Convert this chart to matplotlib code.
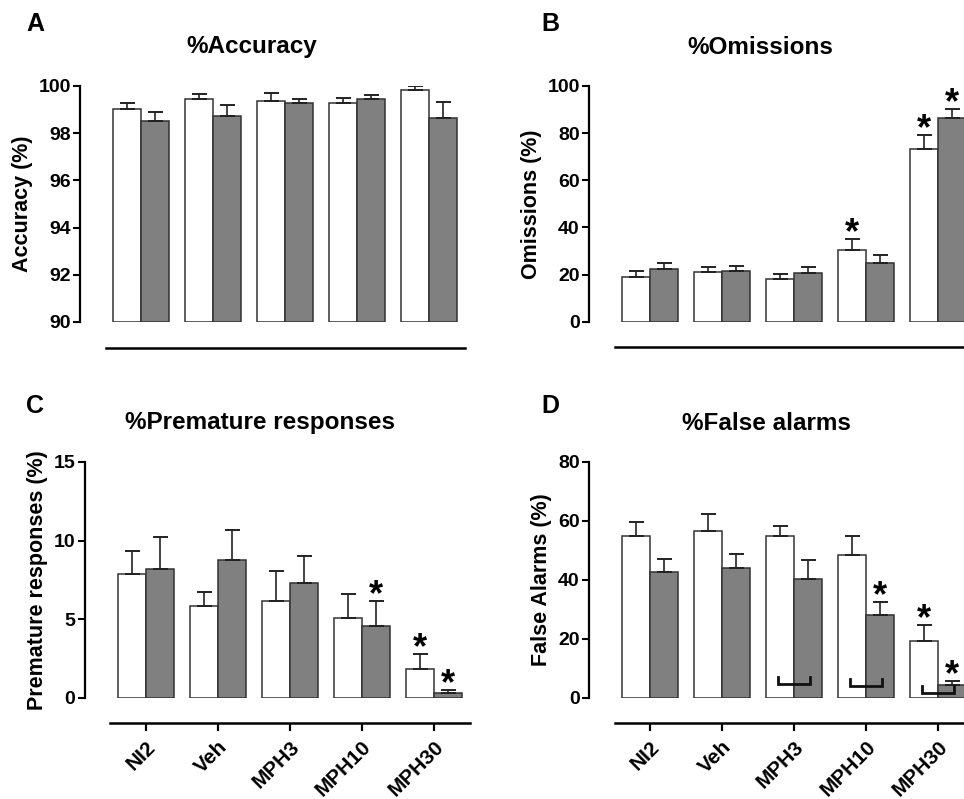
import matplotlib
matplotlib.use('Agg')
import matplotlib.pyplot as plt
import numpy as np

# fonts
plt.rcParams['font.family'] = ['Liberation Sans', 'DejaVu Sans']
plt.rcParams['font.weight'] = 'bold'
plt.rcParams['axes.labelweight'] = 'bold'

groups = ['NI2', 'Veh', 'MPH3', 'MPH10', 'MPH30']

# A - accuracy
acc_white = [99.01, 99.44, 99.36, 99.29, 99.84]
acc_white_err = [0.29, 0.23, 0.36, 0.20, 0.16]
acc_gray = [98.53, 98.72, 99.29, 99.45, 98.66]
acc_gray_err = [0.38, 0.46, 0.17, 0.17, 0.66]

# B - omissions
om_white = [18.8, 21.0, 18.0, 30.4, 73.3]
om_white_err = [2.7, 2.4, 2.4, 4.6, 5.9]
om_gray = [22.2, 21.4, 20.5, 24.9, 86.6]
om_gray_err = [2.8, 2.2, 2.7, 3.3, 3.6]

# C - premature responses
pr_white = [7.87, 5.86, 6.13, 5.05, 1.81]
pr_white_err = [1.47, 0.89, 1.93, 1.57, 0.99]
pr_gray = [8.21, 8.78, 7.30, 4.58, 0.32]
pr_gray_err = [2.00, 1.87, 1.74, 1.57, 0.17]

# D - false alarms
fa_white = [54.8, 56.7, 54.8, 48.5, 19.3]
fa_white_err = [4.8, 5.7, 3.5, 6.4, 5.3]
fa_gray = [42.7, 44.0, 40.4, 28.1, 4.3]
fa_gray_err = [4.3, 4.9, 6.3, 4.5, 1.5]

# significance marks (True = star)
om_white_sig = [False, False, False, True, True]
om_gray_sig = [False, False, False, False, True]
pr_white_sig = [False, False, False, False, True]
pr_gray_sig = [False, False, False, True, True]
fa_white_sig = [False, False, False, False, True]
fa_gray_sig = [False, False, False, True, True]

# brackets in D (baseline value of the bracket, None = no bracket)
fa_bracket = [None, None, 4.5, 4.1, 1.5]

WHITE = 'white'
GRAY = '#808080'
EDGE = '#333333'
bw = 0.39

fig = plt.figure(figsize=(9.64, 7.99), dpi=100)
W, H = 964.0, 799.0


def make_ax(left_px, top_px, bottom_px):
    width_px = 5.37 * 72
    return fig.add_axes([left_px / W, (H - bottom_px) / H, width_px / W, (bottom_px - top_px) / H])


def draw_panel(ax, white, white_err, gray, gray_err, ylim, yticks, ylabel,
               white_sig=None, gray_sig=None, xlabels=False, labelpad=4):
    x = np.arange(len(groups))
    base = ylim[0]
    xw = x - bw / 2
    xg = x + bw / 2
    ax.bar(xw, np.array(white) - base, bw, bottom=base, color=WHITE, edgecolor=EDGE, linewidth=1.1, zorder=2)
    ax.bar(xg, np.array(gray) - base, bw, bottom=base, color=GRAY, edgecolor=EDGE, linewidth=1.1, zorder=2)
    for xs, v, e in [(xw, white, white_err), (xg, gray, gray_err)]:
        ax.errorbar(xs, v, yerr=[np.zeros(len(v)), e], fmt='none', ecolor='#222222',
                    elinewidth=1.2, capsize=5.4, capthick=1.4, zorder=3)
    for xs, v, e, sig in [(xw, white, white_err, white_sig), (xg, gray, gray_err, gray_sig)]:
        if sig is None:
            continue
        for xi, vi, ei, s in zip(xs, v, e, sig):
            if s:
                ax.annotate('*', (xi, vi + ei), xytext=(0, -3.2), textcoords='offset points',
                            ha='center', va='baseline', fontsize=26, fontweight='bold', zorder=4)
    ax.set_xlim(-0.85, 4.52)
    ax.set_ylim(*ylim)
    ax.set_yticks(yticks)
    ax.set_ylabel(ylabel, fontsize=15.5, labelpad=labelpad)
    ax.spines['top'].set_visible(False)
    ax.spines['right'].set_visible(False)
    ax.spines['left'].set_linewidth(1.6)
    ax.spines['bottom'].set_linewidth(1.8)
    ax.spines['bottom'].set_position(('outward', 18.5))
    ax.spines['bottom'].set_bounds(-0.49, 4.5)
    ax.tick_params(axis='y', direction='out', length=5, width=1.5, labelsize=14, pad=1.5)
    if xlabels:
        ax.set_xticks(x)
        ax.set_xticklabels(groups, rotation=45, ha='right', va='top', rotation_mode='anchor',
                           fontsize=15, fontweight='bold')
        ax.tick_params(axis='x', direction='out', length=6, width=1.6, pad=4)
    else:
        ax.set_xticks([])
    return x


axA = make_ax(80, 86, 322)
draw_panel(axA, acc_white, acc_white_err, acc_gray, acc_gray_err, (90, 100),
           [90, 92, 94, 96, 98, 100], 'Accuracy (%)')

axB = make_ax(588.7, 86, 321.7)
draw_panel(axB, om_white, om_white_err, om_gray, om_gray_err, (0, 100),
           [0, 20, 40, 60, 80, 100], 'Omissions (%)', om_white_sig, om_gray_sig)

axC = make_ax(84.5, 462, 697.7)
draw_panel(axC, pr_white, pr_white_err, pr_gray, pr_gray_err, (0, 15),
           [0, 5, 10, 15], 'Premature responses (%)', pr_white_sig, pr_gray_sig, xlabels=True)

axD = make_ax(588.7, 462, 697.7)
xD = draw_panel(axD, fa_white, fa_white_err, fa_gray, fa_gray_err, (0, 80),
                [0, 20, 40, 60, 80], 'False Alarms (%)', fa_white_sig, fa_gray_sig, xlabels=True)

# brackets
for xi, b in zip(xD, fa_bracket):
    if b is None:
        continue
    hw = 0.22
    axD.plot([xi - hw, xi - hw, xi + hw, xi + hw], [b + 2.4, b, b, b + 2.4],
             color='#111111', linewidth=2.0, solid_joinstyle='miter', zorder=4)

# titles and panel letters
fig.text(252 / W, 1 - 47 / H, '%Accuracy', ha='center', va='center', fontsize=17.5, fontweight='bold')
fig.text(760 / W, 1 - 47 / H, '%Omissions', ha='center', va='center', fontsize=17.5, fontweight='bold')
fig.text(260 / W, 1 - 423 / H, '%Premature responses', ha='center', va='center', fontsize=17.5, fontweight='bold')
fig.text(766 / W, 1 - 423 / H, '%False alarms', ha='center', va='center', fontsize=17.5, fontweight='bold')

fig.text(35 / W, 1 - 24 / H, 'A', ha='center', va='center', fontsize=18, fontweight='bold')
fig.text(550 / W, 1 - 24 / H, 'B', ha='center', va='center', fontsize=18, fontweight='bold')
fig.text(35 / W, 1 - 406 / H, 'C', ha='center', va='center', fontsize=18, fontweight='bold')
fig.text(550 / W, 1 - 406 / H, 'D', ha='center', va='center', fontsize=18, fontweight='bold')

plt.savefig('out.png', dpi=100)
plt.close(fig)
